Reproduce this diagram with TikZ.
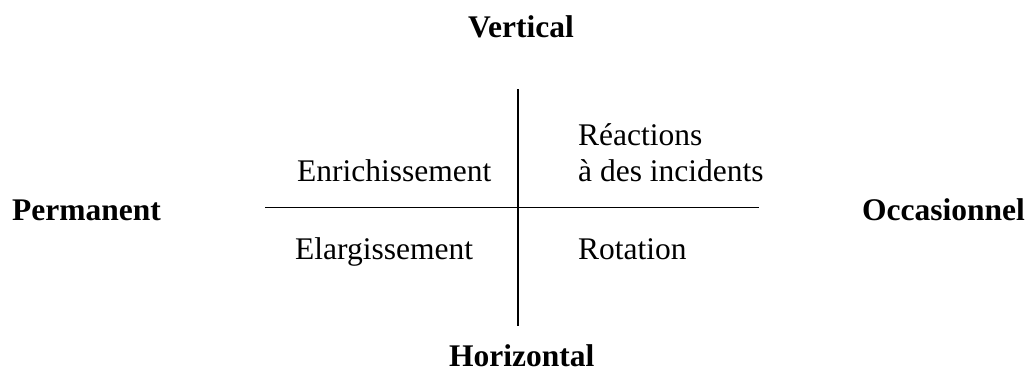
\documentclass[tikz,border=0pt]{standalone}
\usepackage{fontspec}
\setmainfont{Liberation Serif}
\begin{document}
\begin{tikzpicture}[x=1pt,y=-1pt,
  lbl/.style={inner sep=0pt,anchor=base west,font=\fontsize{31.5}{36}\selectfont},
  blbl/.style={inner sep=0pt,anchor=base west,font=\fontsize{31.5}{36}\selectfont\bfseries},
  axis/.style={line width=1.8pt}]
\useasboundingbox (0,0) rectangle (1030,372);
\coordinate (vt) at (518,89);
\coordinate (vb) at (518,326);
\coordinate (hl) at (265,207.5);
\coordinate (hr) at (759,207.5);
\draw[axis] (vt) -- (vb);
\draw[axis] (hl) -- (hr);
\node[blbl] (vert) at (468,37) {Vertical};
\node[blbl] (hor) at (449,366.5) {Horizontal};
\node[blbl] (perm) at (12,220) {Permanent};
\node[blbl] (occ) at (862,220) {Occasionnel};
\node[lbl] (enr) at (297,181) {Enrichissement};
\node[lbl] (rea1) at (578,145) {Réactions};
\node[lbl] (rea2) at (578,181) {à des incidents};
\node[lbl] (ela) at (295,259) {Elargissement};
\node[lbl] (rot) at (578,259) {Rotation};
\end{tikzpicture}
\end{document}
